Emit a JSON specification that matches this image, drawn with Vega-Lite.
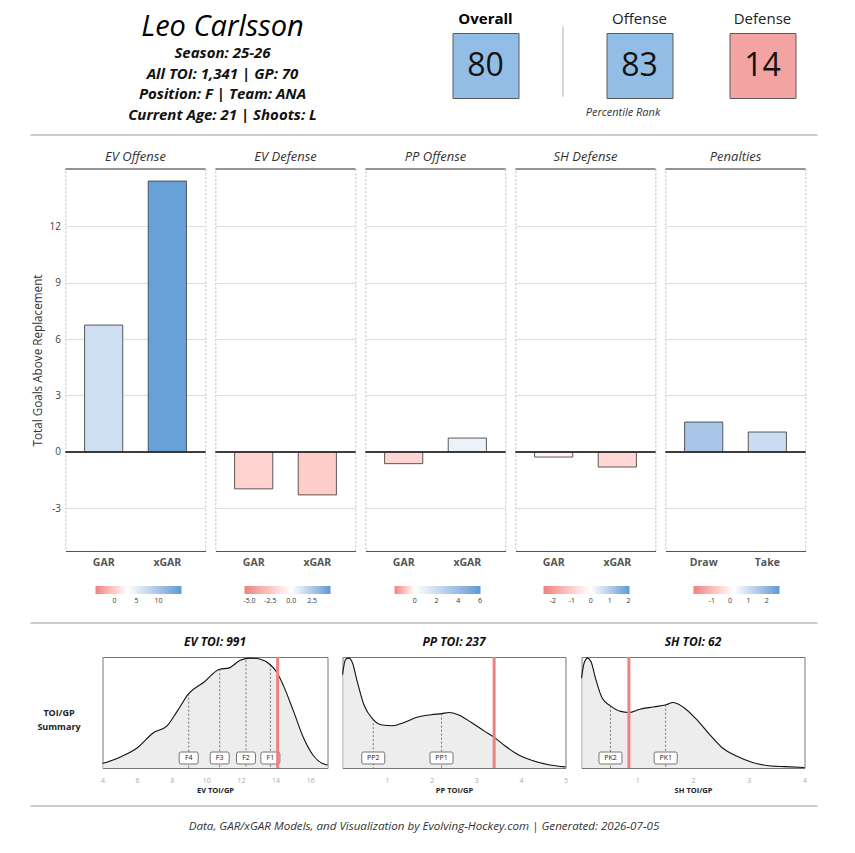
{
  "$schema": "https://vega.github.io/schema/vega-lite/v6.json",
  "background": "white",
  "padding": {"left": 29.5, "top": 11, "right": 5, "bottom": 5},
  "autosize": {"type": "pad"},
  "config": {
    "font": "Open Sans",
    "view": {"stroke": null},
    "axis": {"labelFont": "Open Sans", "titleFont": "Open Sans", "labelOverlap": false},
    "title": {"font": "Open Sans"},
    "legend": {"labelFont": "Open Sans", "padding": 0, "gradientStrokeWidth": 0},
    "text": {"font": "Open Sans"}
  },
  "datasets": {
    "bars": [
      {"panel": "EV Offense", "metric": "GAR", "value": 6.74},
      {"panel": "EV Offense", "metric": "xGAR", "value": 14.39},
      {"panel": "EV Defense", "metric": "GAR", "value": -1.96},
      {"panel": "EV Defense", "metric": "xGAR", "value": -2.28},
      {"panel": "PP Offense", "metric": "GAR", "value": -0.62},
      {"panel": "PP Offense", "metric": "xGAR", "value": 0.74},
      {"panel": "SH Defense", "metric": "GAR", "value": -0.27},
      {"panel": "SH Defense", "metric": "xGAR", "value": -0.8},
      {"panel": "Penalties", "metric": "Draw", "value": 1.59},
      {"panel": "Penalties", "metric": "Take", "value": 1.06}
    ],
    "info": [
      {"line": 1, "text": "Season: 25-26"},
      {"line": 2, "text": "All TOI: 1,341 | GP: 70"},
      {"line": 3, "text": "Position: F | Team: ANA"},
      {"line": 4, "text": "Current Age: 21 | Shoots: L"}
    ],
    "ranks": [
      {"label": "Overall", "value": 80},
      {"label": "Offense", "value": 83},
      {"label": "Defense", "value": 14}
    ],
    "curves": [
      {"panel": "EV", "x": 4.0, "d": 0.04}, {"panel": "EV", "x": 5.04, "d": 0.10}, {"panel": "EV", "x": 6.0, "d": 0.18},
      {"panel": "EV", "x": 6.96, "d": 0.32}, {"panel": "EV", "x": 7.73, "d": 0.38}, {"panel": "EV", "x": 8.31, "d": 0.51},
      {"panel": "EV", "x": 8.98, "d": 0.67}, {"panel": "EV", "x": 9.84, "d": 0.77}, {"panel": "EV", "x": 10.77, "d": 0.89},
      {"panel": "EV", "x": 11.29, "d": 0.90}, {"panel": "EV", "x": 11.96, "d": 0.97}, {"panel": "EV", "x": 12.54, "d": 0.99},
      {"panel": "EV", "x": 13.12, "d": 0.98}, {"panel": "EV", "x": 13.7, "d": 0.93}, {"panel": "EV", "x": 14.08, "d": 0.86},
      {"panel": "EV", "x": 14.46, "d": 0.74}, {"panel": "EV", "x": 15.04, "d": 0.51}, {"panel": "EV", "x": 15.62, "d": 0.27},
      {"panel": "EV", "x": 16.19, "d": 0.11}, {"panel": "EV", "x": 16.92, "d": 0.03}, {"panel": "EV", "x": 17.0, "d": 0.028},
      {"panel": "PP", "x": 0.0, "d": 0.84}, {"panel": "PP", "x": 0.07, "d": 0.98}, {"panel": "PP", "x": 0.15, "d": 0.99},
      {"panel": "PP", "x": 0.22, "d": 0.95}, {"panel": "PP", "x": 0.33, "d": 0.78}, {"panel": "PP", "x": 0.48, "d": 0.57},
      {"panel": "PP", "x": 0.68, "d": 0.44}, {"panel": "PP", "x": 0.86, "d": 0.39}, {"panel": "PP", "x": 1.12, "d": 0.38},
      {"panel": "PP", "x": 1.38, "d": 0.41}, {"panel": "PP", "x": 1.69, "d": 0.46}, {"panel": "PP", "x": 1.99, "d": 0.48},
      {"panel": "PP", "x": 2.22, "d": 0.49}, {"panel": "PP", "x": 2.4, "d": 0.50}, {"panel": "PP", "x": 2.59, "d": 0.48},
      {"panel": "PP", "x": 2.89, "d": 0.41}, {"panel": "PP", "x": 3.19, "d": 0.33}, {"panel": "PP", "x": 3.39, "d": 0.28},
      {"panel": "PP", "x": 3.64, "d": 0.20}, {"panel": "PP", "x": 3.94, "d": 0.12}, {"panel": "PP", "x": 4.24, "d": 0.07},
      {"panel": "PP", "x": 4.62, "d": 0.03}, {"panel": "PP", "x": 5.0, "d": 0.01},
      {"panel": "SH", "x": 0.0, "d": 0.81}, {"panel": "SH", "x": 0.05, "d": 0.95}, {"panel": "SH", "x": 0.11, "d": 0.99},
      {"panel": "SH", "x": 0.17, "d": 0.96}, {"panel": "SH", "x": 0.25, "d": 0.81}, {"panel": "SH", "x": 0.37, "d": 0.63},
      {"panel": "SH", "x": 0.52, "d": 0.56}, {"panel": "SH", "x": 0.7, "d": 0.51}, {"panel": "SH", "x": 0.85, "d": 0.50},
      {"panel": "SH", "x": 1.05, "d": 0.53}, {"panel": "SH", "x": 1.29, "d": 0.55}, {"panel": "SH", "x": 1.52, "d": 0.57},
      {"panel": "SH", "x": 1.64, "d": 0.59}, {"panel": "SH", "x": 1.82, "d": 0.55}, {"panel": "SH", "x": 2.06, "d": 0.44},
      {"panel": "SH", "x": 2.3, "d": 0.30}, {"panel": "SH", "x": 2.53, "d": 0.18}, {"panel": "SH", "x": 2.77, "d": 0.11},
      {"panel": "SH", "x": 3.07, "d": 0.05}, {"panel": "SH", "x": 3.36, "d": 0.02}, {"panel": "SH", "x": 3.66, "d": 0.012},
      {"panel": "SH", "x": 4.0, "d": 0.004}
    ],
    "lines": [
      {"panel": "EV", "label": "F4", "x": 8.98, "h": 0.67},
      {"panel": "EV", "label": "F3", "x": 10.77, "h": 0.89},
      {"panel": "EV", "label": "F2", "x": 12.29, "h": 0.97},
      {"panel": "EV", "label": "F1", "x": 13.7, "h": 0.93},
      {"panel": "PP", "label": "PP2", "x": 0.69, "h": 0.44},
      {"panel": "PP", "label": "PP1", "x": 2.22, "h": 0.49},
      {"panel": "SH", "label": "PK2", "x": 0.52, "h": 0.56},
      {"panel": "SH", "label": "PK1", "x": 1.51, "h": 0.57}
    ],
    "player": [
      {"panel": "EV", "x": 14.12},
      {"panel": "PP", "x": 3.4},
      {"panel": "SH", "x": 0.85}
    ]
  },
  "bounds": "flush",
  "spacing": 0,
  "vconcat": [
    {
      "bounds": "flush",
      "spacing": 0,
      "hconcat": [
        {
          "width": 384, "height": 102,
          "title": {"text": "Leo Carlsson", "fontSize": 29, "fontStyle": "italic", "fontWeight": "normal", "color": "#000", "baseline": "alphabetic", "offset": -31.5},
          "data": {"name": "info"},
          "mark": {"type": "text", "fontSize": 15, "fontStyle": "italic", "fontWeight": "bold", "color": "#111", "baseline": "middle"},
          "encoding": {
            "y": {"field": "line", "type": "ordinal", "scale": {"type": "point", "padding": 1}, "axis": null},
            "text": {"field": "text", "type": "nominal"}
          }
        },
        {"width": 38, "height": 1, "data": {"values": []}, "mark": "point", "encoding": {}},
        {
          "width": 66, "height": 65,
          "view": {"fill": "#92bee6", "stroke": "#5a5a5a", "strokeWidth": 1},
          "title": {"text": "Overall", "fontSize": 15, "fontWeight": "bold", "color": "#000", "baseline": "alphabetic", "offset": -5.7},
          "data": {"name": "ranks"},
          "transform": [{"filter": "datum.label === 'Overall'"}],
          "mark": {"type": "text", "fontSize": 32, "color": "#111", "baseline": "middle"},
          "encoding": {"text": {"field": "value", "type": "nominal"}}
        },
        {"width": 44, "height": 1, "data": {"values": []}, "mark": "point", "encoding": {}},
        {
          "width": 1, "height": 65,
          "data": {"values": [{"a": 0.02, "b": 1.1}]},
          "mark": {"type": "rule", "color": "#c8c8c8", "strokeWidth": 1.5},
          "encoding": {
            "y": {"field": "a", "type": "quantitative", "scale": {"domain": [0, 1]}, "axis": null},
            "y2": {"field": "b"}
          }
        },
        {"width": 43, "height": 1, "data": {"values": []}, "mark": "point", "encoding": {}},
        {
          "width": 66, "height": 65,
          "view": {"fill": "#92bee6", "stroke": "#5a5a5a", "strokeWidth": 1},
          "title": {"text": "Offense", "fontSize": 15, "fontWeight": "normal", "color": "#222", "baseline": "alphabetic", "offset": -5.7},
          "data": {"name": "ranks"},
          "transform": [{"filter": "datum.label === 'Offense'"}],
          "mark": {"type": "text", "fontSize": 32, "color": "#111", "baseline": "middle"},
          "encoding": {
            "x": {"field": "label", "type": "nominal", "axis": {"title": "Percentile Rank", "labels": false, "ticks": false, "domain": false, "titleFontStyle": "italic", "titleFontWeight": "normal", "titleFontSize": 11, "titleColor": "#333", "titlePadding": 8, "titleX": 16}},
            "text": {"field": "value", "type": "nominal"}
          }
        },
        {"width": 57, "height": 1, "data": {"values": []}, "mark": "point", "encoding": {}},
        {
          "width": 66, "height": 65,
          "view": {"fill": "#f4a3a3", "stroke": "#5a5a5a", "strokeWidth": 1},
          "title": {"text": "Defense", "fontSize": 15, "fontWeight": "normal", "color": "#222", "baseline": "alphabetic", "offset": -5.7},
          "data": {"name": "ranks"},
          "transform": [{"filter": "datum.label === 'Defense'"}],
          "mark": {"type": "text", "fontSize": 32, "color": "#111", "baseline": "middle"},
          "encoding": {"text": {"field": "value", "type": "nominal"}}
        }
      ]
    },
    {
      "width": 787, "height": 102,
      "data": {"values": [{"a": 0, "b": 1, "c": 0}]},
      "mark": {"type": "rule", "color": "#999", "strokeWidth": 1},
      "encoding": {
        "x": {"field": "a", "type": "quantitative", "scale": {"domain": [0, 1]}, "axis": null},
        "x2": {"field": "b"},
        "y": {"field": "c", "type": "quantitative", "scale": {"domain": [0, 1]}, "axis": null}
      }
    },
    {"width": 1, "height": 34, "data": {"values": []}, "mark": "point", "encoding": {}},
    {
      "bounds": "flush",
      "spacing": 0,
      "resolve": {"scale": {"color": "independent"}, "legend": {"color": "independent"}},
      "hconcat": [
        {"width": 35, "height": 1, "data": {"values": []}, "mark": "point", "encoding": {}},
        {
          "width": 140, "height": 382,
          "title": {"text": "EV Offense", "fontSize": 13, "fontStyle": "italic", "fontWeight": "normal", "color": "#333", "baseline": "alphabetic", "offset": -5.5},
          "view": {"stroke": "#aaa", "strokeDash": [2, 2], "strokeWidth": 0.8},
          "data": {"name": "bars"},
          "transform": [{"filter": "datum.panel === 'EV Offense'"}],
          "layer": [
            {
              "mark": {"type": "bar", "stroke": "#333", "strokeWidth": 0.8},
              "encoding": {
                "x": {"field": "metric", "type": "nominal", "sort": null, "scale": {"paddingInner": 0.4, "paddingOuter": 0.3},
                      "axis": {"title": null, "ticks": false, "domainColor": "#555", "labelAngle": 0, "labelFontWeight": "bold", "labelFontSize": 10.5, "labelColor": "#555", "labelPadding": 6}},
                "y": {"field": "value", "type": "quantitative", "scale": {"domain": [-5.26, 15.03], "nice": false, "zero": false},
                      "axis": {"values": [-3, 0, 3, 6, 9, 12], "labelExpr": "'' + datum.value", "title": "Total Goals Above Replacement", "titleFontSize": 11.7, "titleFontWeight": "normal", "titleColor": "#333", "titlePadding": 6, "labelFontSize": 10, "labelColor": "#444", "labelPadding": 5, "ticks": false, "domain": false, "grid": true, "gridColor": "#dedede"}},
                "color": {"field": "value", "type": "quantitative",
                          "scale": {"domain": [-4.3, 2.95, 15.2], "range": ["#f08080", "#ffffff", "#5b9bd5"], "interpolate": "lab"},
                          "legend": {"title": null, "orient": "none", "legendX": 30, "legendY": 417, "direction": "horizontal", "gradientLength": 86, "gradientThickness": 8, "values": [0, 5, 10], "labelExpr": "'' + datum.value", "labelFontSize": 7, "labelColor": "#333", "labelOffset": 3}}
              }
            },
            {"mark": {"type": "rule", "color": "#333", "strokeWidth": 1.4}, "encoding": {"y": {"datum": 0}}},
            {"mark": {"type": "rule", "color": "#777", "strokeWidth": 1}, "encoding": {"y": {"datum": 15.03}}}
          ]
        },
        {"width": 10, "height": 1, "data": {"values": []}, "mark": "point", "encoding": {}},
        {
          "width": 140, "height": 382,
          "title": {"text": "EV Defense", "fontSize": 13, "fontStyle": "italic", "fontWeight": "normal", "color": "#333", "baseline": "alphabetic", "offset": -5.5},
          "view": {"stroke": "#aaa", "strokeDash": [2, 2], "strokeWidth": 0.8},
          "data": {"name": "bars"},
          "transform": [{"filter": "datum.panel === 'EV Defense'"}],
          "layer": [
            {
              "mark": {"type": "bar", "stroke": "#333", "strokeWidth": 0.8},
              "encoding": {
                "x": {"field": "metric", "type": "nominal", "sort": null, "scale": {"paddingInner": 0.4, "paddingOuter": 0.3},
                      "axis": {"title": null, "ticks": false, "domainColor": "#555", "labelAngle": 0, "labelFontWeight": "bold", "labelFontSize": 10.5, "labelColor": "#555", "labelPadding": 6}},
                "y": {"field": "value", "type": "quantitative", "scale": {"domain": [-5.26, 15.03], "nice": false, "zero": false},
                      "axis": {"values": [-3, 0, 3, 6, 9, 12], "title": null, "labels": false, "ticks": false, "domain": false, "grid": true, "gridColor": "#dedede"}},
                "color": {"field": "value", "type": "quantitative",
                          "scale": {"domain": [-5.6, 0, 4.7], "range": ["#f08080", "#ffffff", "#5b9bd5"], "interpolate": "lab"},
                          "legend": {"title": null, "orient": "none", "legendX": 29, "legendY": 417, "direction": "horizontal", "gradientLength": 86, "gradientThickness": 8, "values": [-5, -2.5, 0, 2.5], "labelExpr": "replace(format(datum.value, '.1f'), '\u2212', '-')", "labelFontSize": 7, "labelColor": "#333", "labelOffset": 3}}
              }
            },
            {"mark": {"type": "rule", "color": "#333", "strokeWidth": 1.4}, "encoding": {"y": {"datum": 0}}},
            {"mark": {"type": "rule", "color": "#777", "strokeWidth": 1}, "encoding": {"y": {"datum": 15.03}}}
          ]
        },
        {"width": 10, "height": 1, "data": {"values": []}, "mark": "point", "encoding": {}},
        {
          "width": 140, "height": 382,
          "title": {"text": "PP Offense", "fontSize": 13, "fontStyle": "italic", "fontWeight": "normal", "color": "#333", "baseline": "alphabetic", "offset": -5.5},
          "view": {"stroke": "#aaa", "strokeDash": [2, 2], "strokeWidth": 0.8},
          "data": {"name": "bars"},
          "transform": [{"filter": "datum.panel === 'PP Offense'"}],
          "layer": [
            {
              "mark": {"type": "bar", "stroke": "#333", "strokeWidth": 0.8},
              "encoding": {
                "x": {"field": "metric", "type": "nominal", "sort": null, "scale": {"paddingInner": 0.4, "paddingOuter": 0.3},
                      "axis": {"title": null, "ticks": false, "domainColor": "#555", "labelAngle": 0, "labelFontWeight": "bold", "labelFontSize": 10.5, "labelColor": "#555", "labelPadding": 6}},
                "y": {"field": "value", "type": "quantitative", "scale": {"domain": [-5.26, 15.03], "nice": false, "zero": false},
                      "axis": {"values": [-3, 0, 3, 6, 9, 12], "title": null, "labels": false, "ticks": false, "domain": false, "grid": true, "gridColor": "#dedede"}},
                "color": {"field": "value", "type": "quantitative",
                          "scale": {"domain": [-1.85, 0, 6.05], "range": ["#f08080", "#ffffff", "#5b9bd5"], "interpolate": "lab"},
                          "legend": {"title": null, "orient": "none", "legendX": 29, "legendY": 417, "direction": "horizontal", "gradientLength": 86, "gradientThickness": 8, "values": [0, 2, 4, 6], "labelExpr": "'' + datum.value", "labelFontSize": 7, "labelColor": "#333", "labelOffset": 3}}
              }
            },
            {"mark": {"type": "rule", "color": "#333", "strokeWidth": 1.4}, "encoding": {"y": {"datum": 0}}},
            {"mark": {"type": "rule", "color": "#777", "strokeWidth": 1}, "encoding": {"y": {"datum": 15.03}}}
          ]
        },
        {"width": 10, "height": 1, "data": {"values": []}, "mark": "point", "encoding": {}},
        {
          "width": 140, "height": 382,
          "title": {"text": "SH Defense", "fontSize": 13, "fontStyle": "italic", "fontWeight": "normal", "color": "#333", "baseline": "alphabetic", "offset": -5.5},
          "view": {"stroke": "#aaa", "strokeDash": [2, 2], "strokeWidth": 0.8},
          "data": {"name": "bars"},
          "transform": [{"filter": "datum.panel === 'SH Defense'"}],
          "layer": [
            {
              "mark": {"type": "bar", "stroke": "#333", "strokeWidth": 0.8},
              "encoding": {
                "x": {"field": "metric", "type": "nominal", "sort": null, "scale": {"paddingInner": 0.4, "paddingOuter": 0.3},
                      "axis": {"title": null, "ticks": false, "domainColor": "#555", "labelAngle": 0, "labelFontWeight": "bold", "labelFontSize": 10.5, "labelColor": "#555", "labelPadding": 6}},
                "y": {"field": "value", "type": "quantitative", "scale": {"domain": [-5.26, 15.03], "nice": false, "zero": false},
                      "axis": {"values": [-3, 0, 3, 6, 9, 12], "title": null, "labels": false, "ticks": false, "domain": false, "grid": true, "gridColor": "#dedede"}},
                "color": {"field": "value", "type": "quantitative",
                          "scale": {"domain": [-2.5, 0, 2.05], "range": ["#f08080", "#ffffff", "#5b9bd5"], "interpolate": "lab"},
                          "legend": {"title": null, "orient": "none", "legendX": 28, "legendY": 417, "direction": "horizontal", "gradientLength": 86, "gradientThickness": 8, "values": [-2, -1, 0, 1, 2], "labelExpr": "'' + datum.value", "labelFontSize": 7, "labelColor": "#333", "labelOffset": 3}}
              }
            },
            {"mark": {"type": "rule", "color": "#333", "strokeWidth": 1.4}, "encoding": {"y": {"datum": 0}}},
            {"mark": {"type": "rule", "color": "#777", "strokeWidth": 1}, "encoding": {"y": {"datum": 15.03}}}
          ]
        },
        {"width": 10, "height": 1, "data": {"values": []}, "mark": "point", "encoding": {}},
        {
          "width": 140, "height": 382,
          "title": {"text": "Penalties", "fontSize": 13, "fontStyle": "italic", "fontWeight": "normal", "color": "#333", "baseline": "alphabetic", "offset": -5.5},
          "view": {"stroke": "#aaa", "strokeDash": [2, 2], "strokeWidth": 0.8},
          "data": {"name": "bars"},
          "transform": [{"filter": "datum.panel === 'Penalties'"}],
          "layer": [
            {
              "mark": {"type": "bar", "stroke": "#333", "strokeWidth": 0.8},
              "encoding": {
                "x": {"field": "metric", "type": "nominal", "sort": null, "scale": {"paddingInner": 0.4, "paddingOuter": 0.3},
                      "axis": {"title": null, "ticks": false, "domainColor": "#555", "labelAngle": 0, "labelFontWeight": "bold", "labelFontSize": 10.5, "labelColor": "#555", "labelPadding": 6}},
                "y": {"field": "value", "type": "quantitative", "scale": {"domain": [-5.26, 15.03], "nice": false, "zero": false},
                      "axis": {"values": [-3, 0, 3, 6, 9, 12], "title": null, "labels": false, "ticks": false, "domain": false, "grid": true, "gridColor": "#dedede"}},
                "color": {"field": "value", "type": "quantitative",
                          "scale": {"domain": [-2.0, 0.2, 2.7], "range": ["#f08080", "#ffffff", "#5b9bd5"], "interpolate": "lab"},
                          "legend": {"title": null, "orient": "none", "legendX": 28, "legendY": 417, "direction": "horizontal", "gradientLength": 86, "gradientThickness": 8, "values": [-1, 0, 1, 2], "labelExpr": "'' + datum.value", "labelFontSize": 7, "labelColor": "#333", "labelOffset": 3}}
              }
            },
            {"mark": {"type": "rule", "color": "#333", "strokeWidth": 1.4}, "encoding": {"y": {"datum": 0}}},
            {"mark": {"type": "rule", "color": "#777", "strokeWidth": 1}, "encoding": {"y": {"datum": 15.03}}}
          ]
        }
      ]
    },
    {"width": 1, "height": 454, "data": {"values": []}, "mark": "point", "encoding": {}},
    {
      "width": 787, "height": 34,
      "data": {"values": [{"a": 0, "b": 1, "c": 1}]},
      "mark": {"type": "rule", "color": "#999", "strokeWidth": 1},
      "encoding": {
        "x": {"field": "a", "type": "quantitative", "scale": {"domain": [0, 1]}, "axis": null},
        "x2": {"field": "b"},
        "y": {"field": "c", "type": "quantitative", "scale": {"domain": [0, 1]}, "axis": null}
      }
    },
    {
      "bounds": "flush",
      "spacing": 0,
      "hconcat": [
        {
          "width": 57, "height": 111,
          "data": {"values": [{"t": "TOI/GP\nSummary"}]},
          "mark": {"type": "text", "lineBreak": "\n", "fontSize": 9, "fontWeight": "bold", "color": "#222", "baseline": "middle", "lineHeight": 14},
          "encoding": {"text": {"field": "t", "type": "nominal"}}
        },
        {"width": 15, "height": 1, "data": {"values": []}, "mark": "point", "encoding": {}},
        {
          "width": 225, "height": 111,
          "title": {"text": "EV TOI: 991", "fontSize": 12, "fontStyle": "italic", "fontWeight": "bold", "color": "#111", "baseline": "alphabetic", "offset": -2},
          "view": {"stroke": "#777", "strokeWidth": 1},
          "encoding": {
            "x": {"field": "x", "type": "quantitative", "scale": {"domain": [4, 17], "nice": false, "zero": false},
                  "axis": {"values": [4, 6, 8, 10, 12, 14, 16], "labelExpr": "'' + datum.value", "labelOverlap": false, "labelSeparation": 0, "title": "EV TOI/GP", "titleFontSize": 7.5, "titleFontWeight": "bold", "titleColor": "#222", "titlePadding": 3, "labelFontSize": 7, "labelColor": "#aaa", "labelPadding": 8, "labelFlush": false, "ticks": false, "domain": false, "grid": false}}
          },
          "layer": [
            {
              "data": {"name": "curves"}, "transform": [{"filter": "datum.panel === 'EV'"}],
              "mark": {"type": "area", "interpolate": "monotone", "color": "#e5e5e5", "line": {"color": "#111", "strokeWidth": 1.1}},
              "encoding": {
                "y": {"field": "d", "type": "quantitative", "scale": {"domain": [0, 1], "nice": false}, "axis": null}
              }
            },
            {
              "data": {"name": "lines"}, "transform": [{"filter": "datum.panel === 'EV'"}],
              "mark": {"type": "rule", "strokeDash": [2, 2], "color": "#444", "strokeWidth": 0.7},
              "encoding": {"y": {"field": "h", "type": "quantitative"}, "y2": {"datum": 0}}
            },
            {
              "data": {"name": "lines"}, "transform": [{"filter": "datum.panel === 'EV'"}],
              "mark": {"type": "point", "shape": "M-0.8,-0.63L0.8,-0.63Q1,-0.63,1,-0.43L1,0.43Q1,0.63,0.8,0.63L-0.8,0.63Q-1,0.63,-1,0.43L-1,-0.43Q-1,-0.63,-0.8,-0.63Z", "size": 361, "filled": true, "fill": "white", "stroke": "#555", "strokeWidth": 0.8, "opacity": 1},
              "encoding": {"y": {"datum": 0.09, "type": "quantitative"}}
            },
            {
              "data": {"name": "lines"}, "transform": [{"filter": "datum.panel === 'EV'"}],
              "mark": {"type": "text", "fontSize": 7, "color": "#222", "baseline": "middle"},
              "encoding": {"y": {"datum": 0.09, "type": "quantitative"}, "text": {"field": "label", "type": "nominal"}}
            },
            {
              "data": {"name": "player"}, "transform": [{"filter": "datum.panel === 'EV'"}],
              "mark": {"type": "rule", "color": "#f08080", "strokeWidth": 3},
              "encoding": {}
            }
          ]
        },
        {"width": 15, "height": 1, "data": {"values": []}, "mark": "point", "encoding": {}},
        {
          "width": 223, "height": 111,
          "title": {"text": "PP TOI: 237", "fontSize": 12, "fontStyle": "italic", "fontWeight": "bold", "color": "#111", "baseline": "alphabetic", "offset": -2},
          "view": {"stroke": "#777", "strokeWidth": 1},
          "encoding": {
            "x": {"field": "x", "type": "quantitative", "scale": {"domain": [0, 5], "nice": false, "zero": false},
                  "axis": {"values": [1, 2, 3, 4, 5], "labelExpr": "'' + datum.value", "labelOverlap": false, "title": "PP TOI/GP", "titleFontSize": 7.5, "titleFontWeight": "bold", "titleColor": "#222", "titlePadding": 3, "labelFontSize": 7, "labelColor": "#aaa", "labelPadding": 8, "labelFlush": false, "ticks": false, "domain": false, "grid": false}}
          },
          "layer": [
            {
              "data": {"name": "curves"}, "transform": [{"filter": "datum.panel === 'PP'"}],
              "mark": {"type": "area", "interpolate": "monotone", "color": "#e5e5e5", "line": {"color": "#111", "strokeWidth": 1.1}},
              "encoding": {
                "y": {"field": "d", "type": "quantitative", "scale": {"domain": [0, 1], "nice": false}, "axis": null}
              }
            },
            {
              "data": {"name": "lines"}, "transform": [{"filter": "datum.panel === 'PP'"}],
              "mark": {"type": "rule", "strokeDash": [2, 2], "color": "#444", "strokeWidth": 0.7},
              "encoding": {"y": {"field": "h", "type": "quantitative"}, "y2": {"datum": 0}}
            },
            {
              "data": {"name": "lines"}, "transform": [{"filter": "datum.panel === 'PP'"}],
              "mark": {"type": "point", "shape": "M-0.85,-0.52L0.85,-0.52Q1,-0.52,1,-0.37L1,0.37Q1,0.52,0.85,0.52L-0.85,0.52Q-1,0.52,-1,0.37L-1,-0.37Q-1,-0.52,-0.85,-0.52Z", "size": 529, "filled": true, "fill": "white", "stroke": "#555", "strokeWidth": 0.8, "opacity": 1},
              "encoding": {"y": {"datum": 0.09, "type": "quantitative"}}
            },
            {
              "data": {"name": "lines"}, "transform": [{"filter": "datum.panel === 'PP'"}],
              "mark": {"type": "text", "fontSize": 7, "color": "#222", "baseline": "middle"},
              "encoding": {"y": {"datum": 0.09, "type": "quantitative"}, "text": {"field": "label", "type": "nominal"}}
            },
            {
              "data": {"name": "player"}, "transform": [{"filter": "datum.panel === 'PP'"}],
              "mark": {"type": "rule", "color": "#f08080", "strokeWidth": 3},
              "encoding": {}
            }
          ]
        },
        {"width": 16, "height": 1, "data": {"values": []}, "mark": "point", "encoding": {}},
        {
          "width": 223, "height": 111,
          "title": {"text": "SH TOI: 62", "fontSize": 12, "fontStyle": "italic", "fontWeight": "bold", "color": "#111", "baseline": "alphabetic", "offset": -2},
          "view": {"stroke": "#777", "strokeWidth": 1},
          "encoding": {
            "x": {"field": "x", "type": "quantitative", "scale": {"domain": [0, 4], "nice": false, "zero": false},
                  "axis": {"values": [1, 2, 3, 4], "labelExpr": "'' + datum.value", "labelOverlap": false, "title": "SH TOI/GP", "titleFontSize": 7.5, "titleFontWeight": "bold", "titleColor": "#222", "titlePadding": 3, "labelFontSize": 7, "labelColor": "#aaa", "labelPadding": 8, "labelFlush": false, "ticks": false, "domain": false, "grid": false}}
          },
          "layer": [
            {
              "data": {"name": "curves"}, "transform": [{"filter": "datum.panel === 'SH'"}],
              "mark": {"type": "area", "interpolate": "monotone", "color": "#e5e5e5", "line": {"color": "#111", "strokeWidth": 1.1}},
              "encoding": {
                "y": {"field": "d", "type": "quantitative", "scale": {"domain": [0, 1], "nice": false}, "axis": null}
              }
            },
            {
              "data": {"name": "lines"}, "transform": [{"filter": "datum.panel === 'SH'"}],
              "mark": {"type": "rule", "strokeDash": [2, 2], "color": "#444", "strokeWidth": 0.7},
              "encoding": {"y": {"field": "h", "type": "quantitative"}, "y2": {"datum": 0}}
            },
            {
              "data": {"name": "lines"}, "transform": [{"filter": "datum.panel === 'SH'"}],
              "mark": {"type": "point", "shape": "M-0.85,-0.52L0.85,-0.52Q1,-0.52,1,-0.37L1,0.37Q1,0.52,0.85,0.52L-0.85,0.52Q-1,0.52,-1,0.37L-1,-0.37Q-1,-0.52,-0.85,-0.52Z", "size": 529, "filled": true, "fill": "white", "stroke": "#555", "strokeWidth": 0.8, "opacity": 1},
              "encoding": {"y": {"datum": 0.09, "type": "quantitative"}}
            },
            {
              "data": {"name": "lines"}, "transform": [{"filter": "datum.panel === 'SH'"}],
              "mark": {"type": "text", "fontSize": 7, "color": "#222", "baseline": "middle"},
              "encoding": {"y": {"datum": 0.09, "type": "quantitative"}, "text": {"field": "label", "type": "nominal"}}
            },
            {
              "data": {"name": "player"}, "transform": [{"filter": "datum.panel === 'SH'"}],
              "mark": {"type": "rule", "color": "#f08080", "strokeWidth": 3},
              "encoding": {}
            }
          ]
        }
      ]
    },
    {"width": 1, "height": 149, "data": {"values": []}, "mark": "point", "encoding": {}},
    {
      "width": 787, "height": 42,
      "layer": [
        {
          "data": {"values": [{"a": 0, "b": 1, "c": 1}]},
          "mark": {"type": "rule", "color": "#999", "strokeWidth": 1},
          "encoding": {
            "x": {"field": "a", "type": "quantitative", "scale": {"domain": [0, 1]}, "axis": null},
            "x2": {"field": "b"},
            "y": {"field": "c", "type": "quantitative", "scale": {"domain": [0, 1]}, "axis": null}
          }
        },
        {
          "data": {"values": [{"t": "Data, GAR/xGAR Models, and Visualization by Evolving-Hockey.com | Generated: 2026-07-05"}]},
          "mark": {"type": "text", "fontSize": 11.6, "fontStyle": "italic", "color": "#333", "baseline": "middle"},
          "encoding": {"text": {"field": "t", "type": "nominal"}}
        }
      ]
    }
  ]
}
